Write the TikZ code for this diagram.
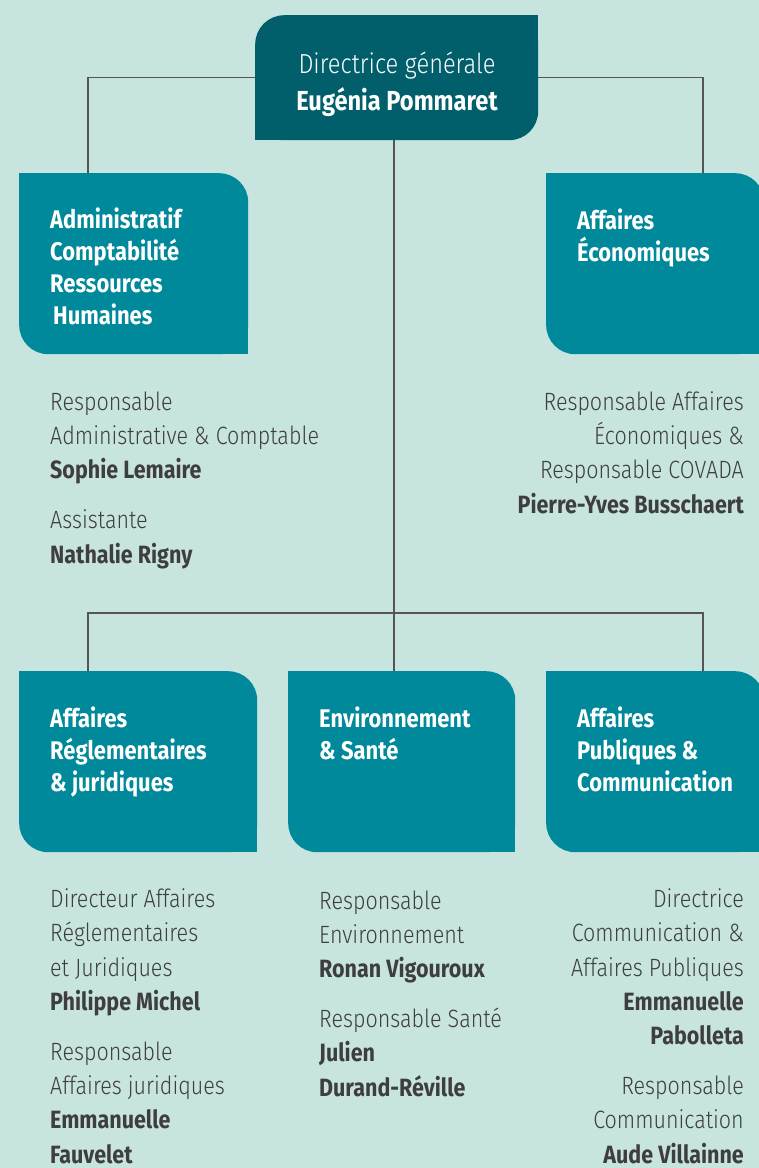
\documentclass[tikz,border=0pt]{standalone}
\usepackage{fontspec}
\setmainfont{Fira Sans}[FakeStretch=0.86]
\newfontfamily\lightf{Fira Sans Light}[FakeStretch=0.86]
\newcommand\who[1]{{\normalfont\bfseries #1}}

\definecolor{bgmint}{HTML}{C8E4DE}
\definecolor{deepteal}{HTML}{005F6B}
\definecolor{midteal}{HTML}{00899A}
\definecolor{ink}{HTML}{3E3E3E}
\definecolor{wire}{HTML}{555555}

\tikzset{
  unitbox/.style={anchor=north west, inner sep=0pt, rounded corners=29pt, fill=midteal},
  % anchor=base: 多行文字时为最后一行的基线
  boxlabel/.style={anchor=base west, align=left, inner sep=0pt, text=white,
    font=\bfseries\fontsize{25.5}{32}\selectfont},
  staff/.style={anchor=base west, align=left, inner sep=0pt, text=ink,
    font=\lightf\fontsize{25}{34.2}\selectfont},
  staffr/.style={staff, anchor=base east, align=right},
  orgline/.style={draw=wire, line width=1.2pt},
}

\begin{document}
\begin{tikzpicture}[x=1pt, y=-1pt]
    % 背景: 759 x 1168, 坐标单位 1pt, y 向下
    \useasboundingbox (0,0) rectangle (759,1168);
    \fill[bgmint] (0,0) rectangle (759,1168);
    \clip (0,0) rectangle (759,1168);

    % 连接点
    \coordinate (adminin) at (88,173);
    \coordinate (ecoin) at (703,173);
    \coordinate (hub) at (394,613);
    \coordinate (reglin) at (88,671);
    \coordinate (envin) at (394,671);
    \coordinate (pubin) at (703,671);

    % 方框
    \node[unitbox, fill=deepteal, minimum width=283pt, minimum height=125pt] (dg) at (255,15) {};
    \node[unitbox, minimum width=229pt, minimum height=181pt] (admin) at (19,173) {};
    \node[unitbox, minimum width=218pt, minimum height=181pt] (eco) at (546,173) {};
    \node[unitbox, minimum width=238pt, minimum height=181pt] (regl) at (19,671) {};
    \node[unitbox, minimum width=227pt, minimum height=181pt] (env) at (288,671) {};
    \node[unitbox, minimum width=218pt, minimum height=181pt] (pub) at (546,671) {};

    % 直角: 只留两个圆角
    \fill[deepteal] (dg.north east) rectangle ++(-30,30);
    \fill[deepteal] (dg.south west) rectangle ++(30,-30);
    \foreach \b in {admin,eco,regl,env,pub} {
        \fill[midteal] (\b.north west) rectangle ++(30,30);
        \fill[midteal] (\b.south east) rectangle ++(-30,-30);
    }

    % 连线
    \draw[orgline] (dg.west) -| (adminin);
    \draw[orgline] (dg.east) -| (ecoin);
    \draw[orgline] (hub |- dg.south) -- (hub);
    \draw[orgline] (reglin) |- (hub) -| (pubin);
    \draw[orgline] (hub) -- (envin);

    % 方框文字 (坐标 = 最后一行基线)
    \node[anchor=base, align=center, inner sep=0pt, text=white,
          font=\lightf\fontsize{27.5}{37}\selectfont] (dgtxt) at (397,110)
        {Directrice générale\\\who{Eugénia Pommaret}};
    \node[boxlabel] (admintxt) at (50,324) {Administratif\\Comptabilité\\Ressources\\\hspace*{3pt}Humaines};
    \node[boxlabel] (ecotxt) at (577,261) {Affaires\\Économiques};
    \node[boxlabel] (regltxt) at (50,791) {Affaires\\Réglementaires\\\& juridiques};
    \node[boxlabel] (envtxt) at (319,759) {Environnement\\\& Santé};
    \node[boxlabel] (pubtxt) at (577,791) {Affaires\\Publiques \&\\Communication};

    % 人员
    \node[staff] (adminstaff) at (50,563)
        {Responsable\\Administrative \& Comptable\\\who{Sophie Lemaire}\\[16pt]Assistante\\\who{Nathalie Rigny}};
    \node[staffr] (ecostaff) at (744,513)
        {Responsable Affaires\\Économiques \&\\Responsable COVADA\\\who{Pierre-Yves Busschaert}};
    \node[staff] (reglstaff) at (50,1163)
        {Directeur Affaires\\Réglementaires\\et Juridiques\\\who{Philippe Michel}\\[16pt]Responsable\\Affaires juridiques\\\who{Emmanuelle}\\\who{Fauvelet}};
    \node[staff] (envstaff) at (319,1096)
        {Responsable\\Environnement\\\who{Ronan Vigouroux}\\[16pt]Responsable Santé\\\who{Julien}\\\who{Durand-Réville}};
    \node[staffr] (pubstaff) at (744,1163)
        {Directrice\\Communication \&\\Affaires Publiques\\\who{Emmanuelle}\\\who{Pabolleta}\\[16pt]Responsable\\Communication\\\who{Aude Villainne}};
\end{tikzpicture}
\end{document}
